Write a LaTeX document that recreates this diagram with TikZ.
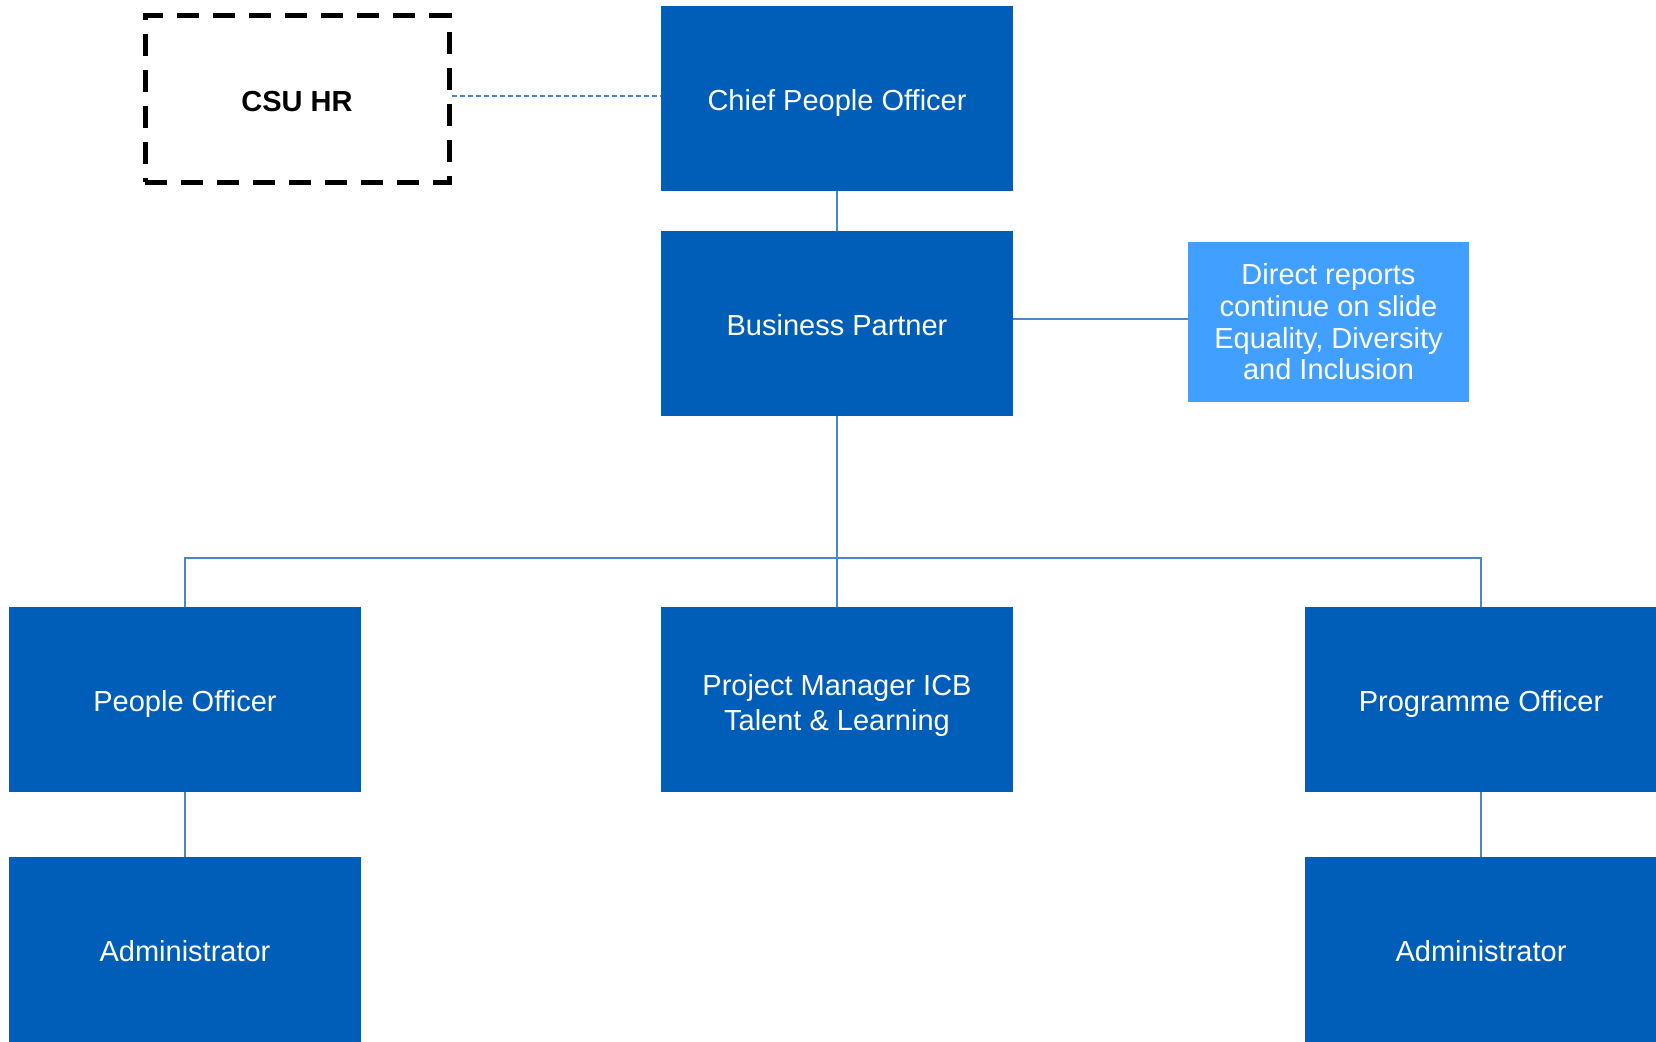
\documentclass[tikz,border=0pt]{standalone}
\usepackage{fontspec}
\setmainfont{Liberation Sans}
\usepackage{xcolor}
\definecolor{nhsblue}{RGB}{0,94,184}
\definecolor{lightblue}{RGB}{65,160,255}
\definecolor{linkblue}{RGB}{74,134,200}

\begin{document}
\begin{tikzpicture}[x=1pt,y=-1pt]
\tikzset{post/.style={fill=nhsblue,text=white,minimum width=352pt,minimum height=185pt,inner sep=0pt,align=center,text height=24pt,text depth=0pt,font=\fontsize{29}{35}\selectfont}}
\tikzset{note/.style={fill=lightblue,text=white,minimum width=281pt,minimum height=160pt,inner sep=0pt,align=center,font=\fontsize{29}{31.7}\selectfont}}
\tikzset{link/.style={draw=linkblue,line width=1.4pt}}
\tikzset{outside/.style={draw=black,line width=5pt,dash pattern=on 22pt off 14pt,minimum width=304pt,minimum height=166pt,inner sep=0pt,text height=25pt,text depth=0pt,font=\fontsize{29}{35}\selectfont\bfseries}}

\useasboundingbox (0,0) rectangle (1656,1041);
\clip (0,0) rectangle (1656,1041);

\node[outside] (csu) at (297,99) {CSU HR};
\node[post] (chief) at (837,98.5) {Chief People Officer};
\node[post] (bp) at (837,323.5) {Business Partner};
\node[note] (direct) at (1328.5,322) {Direct reports\\continue on slide\\Equality, Diversity\\and Inclusion};

\node[post] (po) at (185,699.5) {People Officer};
\node[post,text height=75pt,text depth=14pt] (pm) at (837,699.5) {Project Manager ICB\\Talent \& Learning};
\node[post] (prog) at (1481,699.5) {Programme Officer};
\node[post] (adm1) at (185,949.5) {Administrator};
\node[post] (adm2) at (1481,949.5) {Administrator};

\coordinate (bus) at (837,558);

\draw[draw=linkblue,line width=1.2pt,dash pattern=on 5pt off 3pt] ([yshift=3pt]csu.east) -- ([yshift=2.5pt]chief.west);
\draw[link] (chief) -- (bp);
\draw[link] ([yshift=4.5pt]bp.east) -- ([yshift=3pt]direct.west);
\draw[link] (bp) -- (pm);
\draw[link] (po.north) |- (bus) -| (prog.north);
\draw[link] (po) -- (adm1);
\draw[link] (prog) -- (adm2);

\end{tikzpicture}
\end{document}
